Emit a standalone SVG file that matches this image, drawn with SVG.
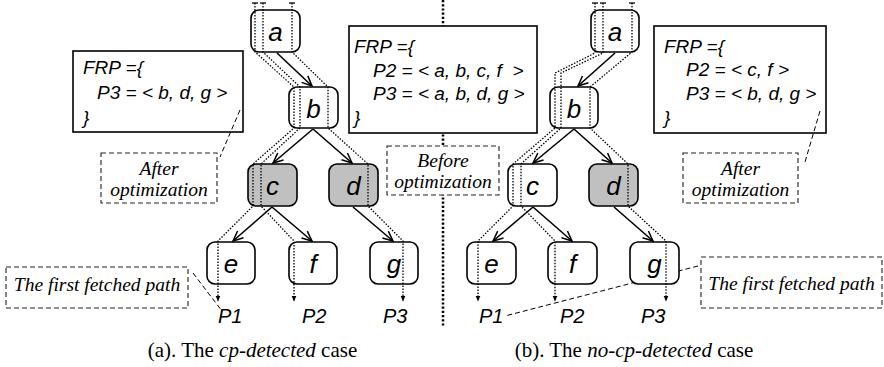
<svg xmlns="http://www.w3.org/2000/svg" width="884" height="367" viewBox="0 0 884 367">
  <style>
    .node rect { fill: #ffffff; stroke: #000; stroke-width: 1.6; }
    .node.hit rect { fill: #c0c0c0; }
    .node text { font-family: "Liberation Sans", Arial, sans-serif; font-style: italic; font-size: 26px; text-anchor: middle; }
    .edge { stroke: #000; stroke-width: 1.6; fill: none; marker-end: url(#open); }
    .path { stroke: #000; stroke-width: 1.3; stroke-dasharray: 1.5 1.5; fill: none; marker-start: url(#bar); marker-end: url(#tip); }
    .frp { fill: #fff; stroke: #000; stroke-width: 1.6; }
    .frp-t { font-family: "Liberation Sans", Arial, sans-serif; font-style: italic; font-size: 19px; }
    .note { fill: #fff; stroke: #222; stroke-width: 1.1; stroke-dasharray: 5 3; }
    .note-t { font-family: "Liberation Serif", "Times New Roman", serif; font-style: italic; font-size: 19.5px; text-anchor: middle; }
    .lead { stroke: #000; stroke-width: 1; stroke-dasharray: 5 3; fill: none; }
    .plab { font-family: "Liberation Sans", Arial, sans-serif; font-style: italic; font-size: 20px; }
    .cap { font-family: "Liberation Serif", "Times New Roman", serif; font-size: 21px; text-anchor: middle; }
    .cap tspan.i { font-style: italic; }
  </style>
  <defs>
    <marker id="open" markerUnits="userSpaceOnUse" viewBox="0 0 12 12" refX="11" refY="6" markerWidth="12" markerHeight="12" orient="auto">
      <path d="M1,1.5 L11,6 L1,10.5" fill="none" stroke="#000" stroke-width="1.5"/>
    </marker>
    <marker id="tip" markerUnits="userSpaceOnUse" viewBox="0 0 6 6" refX="5.5" refY="3" markerWidth="6" markerHeight="6" orient="auto">
      <path d="M0,0.5 L6,3 L0,5.5 Z" fill="#000"/>
    </marker>
    <marker id="bar" markerUnits="userSpaceOnUse" viewBox="0 0 6 6" refX="3" refY="3" markerWidth="6" markerHeight="6" orient="auto">
      <path d="M3,0 V6" stroke="#000" stroke-width="1.3"/>
    </marker>
  </defs>
  <rect width="884" height="367" fill="#fff"/>

  <!-- divider between the two cases -->
  <line x1="443" y1="0" x2="443" y2="327" stroke="#000" stroke-width="2.5" stroke-dasharray="2.2 2"/>

  <!-- FRP boxes -->
  <g id="frp-left">
    <rect class="frp" x="73" y="51" width="170" height="81"/>
    <text class="frp-t" x="83" y="74">FRP ={</text>
    <text class="frp-t" x="97" y="99">P3 = &lt; b, d, g &gt;</text>
    <text class="frp-t" x="83" y="124">}</text>
  </g>
  <g id="frp-mid">
    <rect class="frp" x="349" y="26" width="188" height="107"/>
    <text class="frp-t" x="354" y="53">FRP ={</text>
    <text class="frp-t" x="373" y="77">P2 = &lt; a, b, c, f&#160; &gt;</text>
    <text class="frp-t" x="373" y="100">P3 = &lt; a, b, d, g &gt;</text>
    <text class="frp-t" x="354" y="124">}</text>
  </g>
  <g id="frp-right">
    <rect class="frp" x="654" y="26" width="172" height="107"/>
    <text class="frp-t" x="664" y="53">FRP ={</text>
    <text class="frp-t" x="686" y="76">P2 = &lt; c, f &gt;</text>
    <text class="frp-t" x="686" y="100">P3 = &lt; b, d, g &gt;</text>
    <text class="frp-t" x="664" y="124">}</text>
  </g>

  <!-- annotation boxes -->
  <g id="note-after-left">
    <rect class="note" x="101" y="153" width="116" height="50"/>
    <text class="note-t" x="159" y="175">After</text>
    <text class="note-t" x="159" y="196">optimization</text>
  </g>
  <g id="note-before">
    <rect class="note" x="387" y="146" width="112" height="49"/>
    <text class="note-t" x="443" y="167">Before</text>
    <text class="note-t" x="443" y="188">optimization</text>
  </g>
  <g id="note-after-right">
    <rect class="note" x="683" y="153" width="115" height="50"/>
    <text class="note-t" x="740.5" y="175">After</text>
    <text class="note-t" x="740.5" y="196">optimization</text>
  </g>
  <g id="note-first-left">
    <rect class="note" x="6" y="267" width="182" height="41"/>
    <text class="note-t" x="97" y="291">The first fetched path</text>
  </g>
  <g id="note-first-right">
    <rect class="note" x="701" y="257" width="181" height="51"/>
    <text class="note-t" x="791.5" y="290">The first fetched path</text>
  </g>

  <!-- leader lines -->
  <g id="leaders">
    <line class="lead" x1="240" y1="110" x2="220" y2="157"/>
    <line class="lead" x1="820" y1="111" x2="805" y2="162"/>
    <line class="lead" x1="193" y1="273" x2="222" y2="311"/>
    <line class="lead" x1="698" y1="266" x2="505" y2="316"/>
  </g>

  <!-- case (a) nodes -->
  <g id="a1" class="node"><rect x="251" y="10" width="49" height="42" rx="8"/><text x="275.5" y="41">a</text></g>
  <g id="b1" class="node"><rect x="289" y="87" width="49" height="41" rx="8"/><text x="313.5" y="117.5">b</text></g>
  <g id="c1" class="node hit"><rect x="248" y="164" width="49" height="42" rx="8"/><text x="272.5" y="195">c</text></g>
  <g id="d1" class="node hit"><rect x="329" y="164" width="49" height="42" rx="8"/><text x="353.5" y="195">d</text></g>
  <g id="e1" class="node"><rect x="207" y="242" width="48" height="42" rx="8"/><text x="231" y="273">e</text></g>
  <g id="f1" class="node"><rect x="289" y="242" width="48" height="42" rx="8"/><text x="313" y="273">f</text></g>
  <g id="g1" class="node"><rect x="370" y="242" width="48" height="42" rx="8"/><text x="394" y="273">g</text></g>

  <!-- case (b) nodes -->
  <g id="a2" class="node"><rect x="591" y="10" width="48" height="42" rx="8"/><text x="615" y="41">a</text></g>
  <g id="b2" class="node"><rect x="550" y="87" width="48" height="41" rx="8"/><text x="574" y="117.5">b</text></g>
  <g id="c2" class="node"><rect x="508" y="164" width="49" height="42" rx="8"/><text x="532.5" y="195">c</text></g>
  <g id="d2" class="node hit"><rect x="589" y="164" width="49" height="42" rx="8"/><text x="613.5" y="195">d</text></g>
  <g id="e2" class="node"><rect x="467" y="242" width="49" height="42" rx="8"/><text x="491.5" y="273">e</text></g>
  <g id="f2" class="node"><rect x="548" y="242" width="49" height="42" rx="8"/><text x="572.5" y="273">f</text></g>
  <g id="g2" class="node"><rect x="630" y="242" width="49" height="42" rx="8"/><text x="654.5" y="273">g</text></g>

  <!-- tree edges -->
  <g id="edges">
    <line class="edge" x1="277" y1="53" x2="312" y2="86"/>
    <line class="edge" x1="313" y1="129" x2="273" y2="163"/>
    <line class="edge" x1="313" y1="129" x2="352" y2="163"/>
    <line class="edge" x1="272" y1="207" x2="233" y2="241"/>
    <line class="edge" x1="272" y1="207" x2="312" y2="241"/>
    <line class="edge" x1="353" y1="207" x2="393" y2="241"/>

    <line class="edge" x1="615" y1="53" x2="578" y2="86"/>
    <line class="edge" x1="574" y1="129" x2="533" y2="163"/>
    <line class="edge" x1="574" y1="129" x2="612" y2="163"/>
    <line class="edge" x1="533" y1="207" x2="493" y2="241"/>
    <line class="edge" x1="533" y1="207" x2="572" y2="241"/>
    <line class="edge" x1="614" y1="207" x2="653" y2="241"/>
  </g>

  <!-- fetched paths -->
  <g id="paths">
    <path class="path" d="M255,3 V52 L294,87 V128 L253,164 V206 L218,241 V301"/>
    <path class="path" d="M263,3 V52 L300,87 V128 L261,164 V206 L294,241 V301"/>
    <path class="path" d="M292,3 V52 L328,87 V128 L368,164 V206 L403,241 V301"/>

    <path class="path" d="M595,3 V53 L555,73 V128 L513,164 V206 L478,241 V301"/>
    <path class="path" d="M603,3 V53 L561,73 V128 L521,164 V206 L555,241 V301"/>
    <path class="path" d="M632,3 V52 L590,87 V128 L628,164 V206 L666,241 V301"/>
  </g>

  <!-- path labels -->
  <g id="labels">
    <text class="plab" x="218" y="323">P1</text>
    <text class="plab" x="302" y="323">P2</text>
    <text class="plab" x="383" y="323">P3</text>
    <text class="plab" x="479" y="323">P1</text>
    <text class="plab" x="560" y="323">P2</text>
    <text class="plab" x="641" y="323">P3</text>
  </g>

  <!-- captions -->
  <text class="cap" x="252.5" y="357">(a). The <tspan class="i">cp-detected</tspan> case</text>
  <text class="cap" x="634" y="357">(b). The <tspan class="i">no-cp-detected</tspan> case</text>
</svg>
